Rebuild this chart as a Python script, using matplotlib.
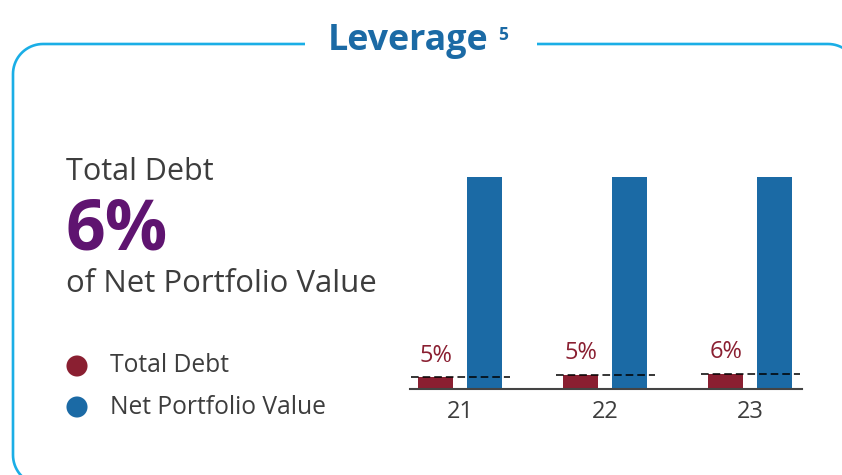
import matplotlib
matplotlib.use("Agg")
import matplotlib.pyplot as plt
from matplotlib.path import Path
from matplotlib.patches import PathPatch
import numpy as np

# ---- data ----
years = ["21", "22", "23"]
total_debt = [5.2, 6.3, 6.8]          # % of net portfolio value (bar heights)
debt_labels = ["5%", "5%", "6%"]
net_portfolio = [100, 100, 100]        # normalized
headline_value = "6%"

# ---- style ----
RED = "#8a1f31"
BLUE = "#1b6aa5"
PURPLE = "#5f1470"
FRAME = "#1aaee6"
GRAY = "#3d3d3d"
FONT = "Open Sans"

W, H = 842, 475
fig = plt.figure(figsize=(W / 100, H / 100), dpi=100)

# background axes in pixel coordinates (y measured from top)
bg = fig.add_axes([0, 0, 1, 1])
bg.set_xlim(0, W)
bg.set_ylim(0, H)
bg.axis("off")


def Y(y):
    return H - y


def arc(cx, cy, r, a0, a1, n=20):
    t = np.linspace(np.radians(a0), np.radians(a1), n)
    return [(cx + r * np.cos(t_), Y(cy) + r * np.sin(t_)) for t_ in t]


# rounded frame with a gap for the title
L, T, R, B, r = 13, 44, 858, 485, 30
pts = [(305, Y(T)), (L + r, Y(T))]
pts += arc(L + r, T + r, r, 90, 180)
pts += [(L, Y(B - r))]
pts += arc(L + r, B - r, r, 180, 270)
pts += [(R - r, Y(B))]
pts += arc(R - r, B - r, r, 270, 360)
pts += [(R, Y(T + r))]
pts += arc(R - r, T + r, r, 0, 90)
pts += [(537, Y(T))]
codes = [Path.MOVETO] + [Path.LINETO] * (len(pts) - 1)
bg.add_patch(PathPatch(Path(pts, codes), fill=False, ec=FRAME, lw=1.9,
                       capstyle="butt"))

bg.text(328, Y(50), "Leverage", fontfamily=FONT, fontweight="bold", fontsize=25.8,
        color=BLUE, ha="left", va="baseline", zorder=4)
bg.text(498, Y(40), "5", fontfamily=FONT, fontweight="bold", fontsize=12.5,
        color=BLUE, ha="left", va="baseline", zorder=4)

bg.text(66, Y(180), "Total Debt", fontfamily=FONT, fontsize=22, color=GRAY,
        ha="left", va="baseline")
bg.text(66, Y(250), headline_value, fontfamily=FONT, fontweight="bold", fontsize=50,
        color=PURPLE, ha="left", va="baseline")
bg.text(66, Y(292), "of Net Portfolio Value", fontfamily=FONT, fontsize=22.4,
        color=GRAY, ha="left", va="baseline")

# legend
for y, col, lab in [(366, RED, "Total Debt"), (407, BLUE, "Net Portfolio Value")]:
    bg.scatter([77], [Y(y)], s=230, color=col, edgecolor="none")
    bg.text(110, Y(y), lab, fontfamily=FONT, fontsize=17.7, color=GRAY,
            ha="left", va="center")

# ---- bar chart ----
x = np.arange(len(years))
left_px, right_px = 410, 802
base_px, top_px = 388.5, 176.7
ax = fig.add_axes([left_px / W, (H - base_px) / H,
                   (right_px - left_px) / W, (base_px - top_px) / H])
ax.set_xlim(-0.345, 2.359)
ax.set_ylim(0, 100)

bw = 0.24
off = 0.167
ax.bar(x - off, total_debt, width=bw, color=RED, zorder=2)
ax.bar(x + off, net_portfolio, width=bw, color=BLUE, zorder=2)

for xi, v, lab in zip(x, total_debt, debt_labels):
    ax.plot([xi - off - bw / 2 - 0.05, xi + off + bw / 2 + 0.06], [v, v],
            color="black", lw=1.1, linestyle=(0, (5, 2.6)), zorder=3,
            clip_on=False)
    ax.text(xi - off, v + 4.6, lab, fontfamily=FONT, fontsize=17,
            color=RED, ha="center", va="bottom")

for s in ["top", "right", "left"]:
    ax.spines[s].set_visible(False)
ax.spines["bottom"].set_color("#444444")
ax.spines["bottom"].set_linewidth(1.5)
ax.set_yticks([])
ax.set_xticks(x)
ax.set_xticklabels(years, fontfamily=FONT, fontsize=17, color=GRAY)
ax.tick_params(axis="x", length=0, pad=8)
ax.patch.set_visible(False)

fig.savefig("out.png", dpi=100)
